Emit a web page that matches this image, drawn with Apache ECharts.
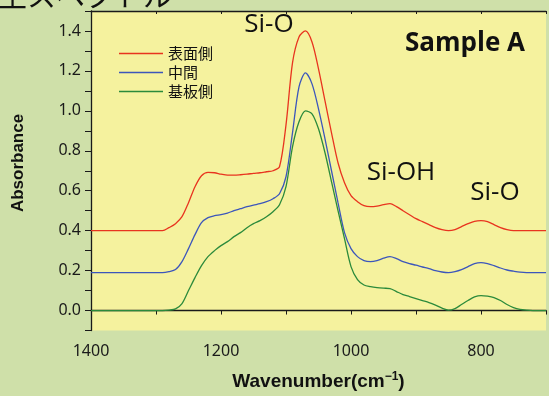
<!DOCTYPE html>
<html>
<head>
<meta charset="utf-8">
<script src="https://cdn.jsdelivr.net/npm/echarts@6/dist/echarts.min.js"></script>
<style>
  html, body { margin: 0; padding: 0; background: #cfe0a9; }
  #chart { width: 549px; height: 396px; }
</style>
</head>
<body>
<div id="chart"></div>
<script>
// wavenumber grid (cm-1), shared by all three spectra
var wavenumbers = [1400, 1350,
  1300, 1290, 1280, 1270, 1260, 1250, 1240, 1230, 1220, 1210,
  1200, 1190, 1180, 1170, 1160, 1150, 1140, 1130, 1120, 1110,
  1100, 1090, 1080, 1070, 1060, 1050, 1040, 1030, 1020, 1010,
  1000, 990, 980, 970, 960, 950, 940, 930, 920, 910,
  900, 890, 880, 870, 860, 850, 840, 830, 820, 810,
  800, 790, 780, 770, 760, 750, 740, 730, 720, 710, 700];
// 表面側
var surfaceSide = [0.40, 0.40,
  0.40, 0.40, 0.415, 0.435, 0.47, 0.54, 0.62, 0.675, 0.692, 0.69,
  0.683, 0.678, 0.678, 0.68, 0.683, 0.687, 0.69, 0.695, 0.70, 0.72,
  0.93, 1.24, 1.37, 1.40, 1.345, 1.21, 1.05, 0.89, 0.74, 0.64,
  0.575, 0.545, 0.525, 0.52, 0.523, 0.53, 0.535, 0.52, 0.50, 0.48,
  0.46, 0.445, 0.43, 0.415, 0.405, 0.40, 0.405, 0.42, 0.435, 0.447,
  0.45, 0.445, 0.43, 0.415, 0.405, 0.40, 0.40, 0.40, 0.40, 0.40, 0.40];
// 中間
var middle = [0.19, 0.19,
  0.19, 0.19, 0.195, 0.205, 0.245, 0.31, 0.38, 0.44, 0.465, 0.475,
  0.48, 0.488, 0.50, 0.51, 0.52, 0.528, 0.535, 0.545, 0.56, 0.585,
  0.67, 0.89, 1.12, 1.19, 1.135, 1.01, 0.86, 0.70, 0.54, 0.39,
  0.31, 0.27, 0.25, 0.245, 0.25, 0.262, 0.27, 0.26, 0.245, 0.235,
  0.227, 0.218, 0.21, 0.20, 0.193, 0.19, 0.195, 0.205, 0.22, 0.235,
  0.24, 0.235, 0.225, 0.213, 0.203, 0.197, 0.192, 0.19, 0.19, 0.19, 0.19];
// 基板側
var substrateSide = [0.0, 0.0,
  0.0, 0.0, 0.002, 0.008, 0.035, 0.10, 0.165, 0.225, 0.27, 0.30,
  0.325, 0.345, 0.37, 0.39, 0.415, 0.435, 0.45, 0.47, 0.495, 0.53,
  0.62, 0.82, 0.945, 1.00, 0.985, 0.91, 0.79, 0.645, 0.50, 0.36,
  0.22, 0.155, 0.128, 0.12, 0.115, 0.112, 0.11, 0.095, 0.08, 0.07,
  0.06, 0.05, 0.04, 0.027, 0.012, 0.002, 0.01, 0.03, 0.05, 0.068,
  0.075, 0.072, 0.065, 0.05, 0.03, 0.015, 0.006, 0.002, 0.0, 0.0, 0.0];
var seriesNames = ['表面側', '中間', '基板側'];
var seriesColors = ['#e8341f', '#3c56bb', '#2b8a3b'];

var chart = echarts.init(document.getElementById('chart'));

function pairs(ys) {
  return wavenumbers.map(function (x, i) { return [x, ys[i]]; });
}

var axisColor = '#1a1a1a';
var labelStyle = { color: '#1a1a1a', fontSize: 16, fontFamily: 'Noto Sans' };

var option = {
  backgroundColor: '#cfe0a9',
  animation: false,
  grid: {
    left: 91, right: 0, top: 11, bottom: 64,
    show: true, backgroundColor: '#f5f29e', borderWidth: 0
  },
  legend: {
    orient: 'vertical',
    left: 119, top: 44,
    padding: 0,
    icon: 'rect',
    itemWidth: 44, itemHeight: 1.5,
    itemGap: 0,
    textStyle: { color: '#111', fontSize: 15, lineHeight: 19, fontFamily: 'Noto Sans CJK JP' },
    data: seriesNames
  },
  xAxis: [{
    type: 'value', inverse: true,
    min: 700, max: 1400, interval: 100,
    axisLine: { lineStyle: { color: axisColor, width: 1.3 } },
    axisTick: { length: 4, lineStyle: { color: axisColor } },
    splitLine: { show: false },
    axisLabel: Object.assign({ margin: 13, formatter: function (v) { return v % 200 === 0 ? String(v) : ''; } }, labelStyle),
    name: 'Wavenumber(cm{sup|−1})',
    nameLocation: 'middle', nameGap: 40,
    nameTextStyle: {
      color: '#111', fontSize: 19, fontWeight: 'bold', fontFamily: 'Liberation Sans',
      rich: { sup: { fontSize: 12, fontWeight: 'bold', fontFamily: 'Liberation Sans', padding: [0, 0, 10, 0] } }
    }
  }, {
    type: 'value', inverse: true, position: 'top',
    min: 700, max: 1400, interval: 100,
    axisLine: { lineStyle: { color: axisColor, width: 1.3 } },
    axisTick: { length: 3, inside: true, lineStyle: { color: axisColor } },
    axisLabel: { show: false },
    splitLine: { show: false }
  }],
  yAxis: {
    type: 'value',
    min: -0.1, max: 1.5, interval: 0.1,
    axisLine: { show: true, lineStyle: { color: axisColor, width: 1.3 } },
    axisTick: { show: true, length: 6, lineStyle: { color: axisColor } },
    splitLine: { show: false },
    axisLabel: Object.assign({
      margin: 10,
      formatter: function (v) {
        var k = Math.round(v * 10);
        return (k % 2 === 0 && k >= 0 && k <= 14) ? (k / 10).toFixed(1) : '';
      }
    }, labelStyle)
  },
  graphic: [
    { type: 'text', left: -2, top: -19, style: { text: '生スペクトル', fontSize: 29, fill: '#111', fontFamily: 'Noto Sans CJK JP' } },
    { type: 'text', x: 18, y: 163, rotation: Math.PI / 2,
      style: { text: 'Absorbance', fontSize: 17, fontWeight: 'bold', fill: '#111', fontFamily: 'Liberation Sans', align: 'center', verticalAlign: 'middle' } },
    { type: 'text', x: 269, y: 25, style: { text: 'Si-O', fontSize: 26, fill: '#111', fontFamily: 'Open Sans', align: 'center', verticalAlign: 'middle' } },
    { type: 'text', x: 465, y: 44, style: { text: 'Sample A', fontSize: 26, fontWeight: 'bold', fill: '#111', fontFamily: 'Open Sans', align: 'center', verticalAlign: 'middle' } },
    { type: 'text', x: 401, y: 173, style: { text: 'Si-OH', fontSize: 26, fill: '#111', fontFamily: 'Open Sans', align: 'center', verticalAlign: 'middle' } },
    { type: 'text', x: 495, y: 193, style: { text: 'Si-O', fontSize: 26, fill: '#111', fontFamily: 'Open Sans', align: 'center', verticalAlign: 'middle' } }
  ],
  series: [surfaceSide, middle, substrateSide].map(function (ys, i) {
    return {
      name: seriesNames[i],
      type: 'line',
      xAxisIndex: 0,
      data: pairs(ys),
      smooth: 0.3,
      showSymbol: false,
      color: seriesColors[i],
      lineStyle: { width: 1.3, color: seriesColors[i] }
    };
  })
};
chart.setOption(option);
</script>
</body>
</html>
